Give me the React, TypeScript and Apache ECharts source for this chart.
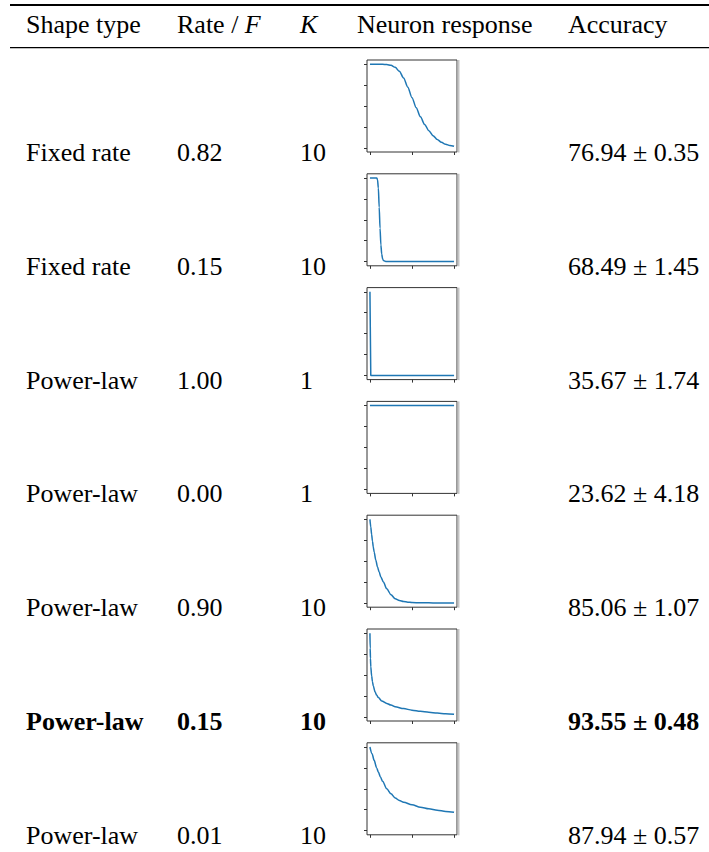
import React, { useEffect, useRef } from "react";
import * as echarts from "echarts";

// ---- data ----
const headers = ["Shape type", "Rate / {i|F}", "{i|K}", "Neuron response", "Accuracy"];
const shapeTypes = ["Fixed rate", "Fixed rate", "Power-law", "Power-law", "Power-law", "Power-law", "Power-law"];
const rates = ["0.82", "0.15", "1.00", "0.00", "0.90", "0.15", "0.01"];
const ks = ["10", "10", "1", "1", "10", "10", "10"];
const accuracies = ["76.94 ± 0.35", "68.49 ± 1.45", "35.67 ± 1.74", "23.62 ± 4.18", "85.06 ± 1.07", "93.55 ± 0.48", "87.94 ± 0.57"];
const boldRows = [5];

const xTicks = [0, 0.5, 1];
const yTicks = [0, 0.25, 0.5, 0.75, 1];

const response1 = [[0, 1], [0.05, 1], [0.1, 1], [0.15, 0.999], [0.2, 0.996], [0.25, 0.986], [0.3, 0.962], [0.35, 0.915], [0.4, 0.835], [0.45, 0.725], [0.5, 0.6], [0.55, 0.48], [0.6, 0.37], [0.65, 0.28], [0.7, 0.205], [0.75, 0.145], [0.8, 0.1], [0.85, 0.066], [0.9, 0.043], [0.95, 0.028], [1, 0.018]];
const response2 = [[0, 1], [0.04, 1], [0.08, 1], [0.09, 0.98], [0.1, 0.88], [0.11, 0.65], [0.12, 0.4], [0.13, 0.2], [0.14, 0.09], [0.15, 0.035], [0.16, 0.012], [0.18, 0.003], [0.2, 0], [0.4, 0], [0.6, 0], [0.8, 0], [1, 0]];
const response3 = [[0, 1], [0.01, 0], [0.5, 0], [1, 0]];
const response4 = [[0, 1], [0.5, 1], [1, 1]];
const response5 = [[0, 1], [0.01, 0.91], [0.02, 0.82], [0.03, 0.74], [0.04, 0.67], [0.05, 0.61], [0.07, 0.51], [0.09, 0.43], [0.11, 0.37], [0.13, 0.31], [0.16, 0.25], [0.2, 0.17], [0.25, 0.1], [0.3, 0.05], [0.35, 0.03], [0.4, 0.018], [0.45, 0.01], [0.5, 0.006], [0.6, 0.003], [0.7, 0.002], [0.8, 0.001], [0.9, 0.001], [1, 0]];
const response6 = [[0, 1], [0.003, 0.82], [0.006, 0.7], [0.01, 0.6], [0.02, 0.49], [0.03, 0.42], [0.04, 0.37], [0.06, 0.3], [0.08, 0.26], [0.1, 0.23], [0.14, 0.19], [0.2, 0.16], [0.25, 0.14], [0.3, 0.12], [0.4, 0.098], [0.5, 0.08], [0.6, 0.066], [0.7, 0.055], [0.8, 0.045], [0.9, 0.037], [1, 0.03]];
const response7 = [[0, 1], [0.025, 0.92], [0.05, 0.84], [0.08, 0.75], [0.1, 0.7], [0.125, 0.64], [0.15, 0.59], [0.2, 0.5], [0.25, 0.44], [0.3, 0.39], [0.35, 0.36], [0.4, 0.34], [0.5, 0.31], [0.6, 0.28], [0.7, 0.26], [0.8, 0.245], [0.9, 0.23], [1, 0.22]];
const responses = [response1, response2, response3, response4, response5, response6, response7];
const smoothFlags = [true, true, false, false, true, true, true];

// ---- layout ----
const W = 709;
const H = 852;
const FONT = "Liberation Serif";
const FS = 26;
const colX = [26, 177, 300, 357, 568];
const chartLeft = 367;
const chartW = 90;
const chartH = 92;
const firstTop = 60;
const rowStep = 113.8;

function textEl(text: string, x: number, y: number, bold: boolean) {
  return {
    type: "text",
    x,
    y,
    style: {
      text,
      fill: "#000",
      fontFamily: FONT,
      fontSize: FS,
      fontWeight: bold ? "bold" : "normal",
      align: "left",
      verticalAlign: "middle",
      textAlign: "left",
      textVerticalAlign: "middle",
      rich: {
        i: { fontFamily: FONT, fontSize: FS, fontStyle: "italic", fill: "#000" },
      },
    },
  };
}

export default function App() {
  const ref = useRef<HTMLDivElement>(null);
  useEffect(() => {
    if (!ref.current) return;
    const chart = echarts.init(ref.current, undefined, { renderer: "svg" });
    const grids: any[] = [];
    const xAxes: any[] = [];
    const yAxes: any[] = [];
    const series: any[] = [];
    const graphics: any[] = [];

    // rules
    graphics.push({ type: "rect", shape: { x: 10, y: 4, width: W - 10, height: 2 }, style: { fill: "#000" } });
    graphics.push({ type: "rect", shape: { x: 10, y: 47, width: W - 10, height: 1.2 }, style: { fill: "#000" } });

    headers.forEach((h, c) => graphics.push(textEl(h, colX[c], 24, false)));

    responses.forEach((data, i) => {
      const top = firstTop + i * rowStep;
      const bold = boldRows.includes(i);
      const cy = top + chartH + 0.5;
      graphics.push(textEl(shapeTypes[i], colX[0], cy, bold));
      graphics.push(textEl(rates[i], colX[1], cy, bold));
      graphics.push(textEl(ks[i], colX[2], cy, bold));
      graphics.push(textEl(accuracies[i], colX[4], cy, bold));
      graphics.push({ type: "rect", shape: { x: chartLeft + chartW + 0.5, y: top, width: 2, height: chartH + 0.5 }, style: { fill: "#c4c4c4" } });

      grids.push({
        left: chartLeft,
        top,
        width: chartW,
        height: chartH,
        show: true,
        borderColor: "#333",
        borderWidth: 1,
        backgroundColor: "#fff",
        containLabel: false,
        outerBoundsMode: "none",
      });
      xAxes.push({
        type: "value",
        gridIndex: i,
        min: -0.035,
        max: 1.035,
        position: "bottom",
        axisLine: { show: false, onZero: false },
        axisTick: { show: true, inside: false, length: 3, customValues: xTicks, lineStyle: { color: "#333", width: 1 } },
        axisLabel: { show: false, customValues: xTicks },
        splitLine: { show: false },
      });
      yAxes.push({
        type: "value",
        gridIndex: i,
        min: -0.05,
        max: 1.05,
        position: "left",
        axisLine: { show: false, onZero: false },
        axisTick: { show: true, inside: false, length: 3, customValues: yTicks, lineStyle: { color: "#333", width: 1 } },
        axisLabel: { show: false, customValues: yTicks },
        splitLine: { show: false },
      });
      series.push({
        type: "line",
        xAxisIndex: i,
        yAxisIndex: i,
        data,
        showSymbol: false,
        smooth: smoothFlags[i] ? 0.3 : false,
        smoothMonotone: "x",
        lineStyle: { color: "#1f77b4", width: 1.5 },
        silent: true,
      });
    });

    chart.setOption({
      animation: false,
      backgroundColor: "#fff",
      grid: grids,
      xAxis: xAxes,
      yAxis: yAxes,
      series,
      graphic: { elements: graphics },
    });
    return () => chart.dispose();
  }, []);
  return <div ref={ref} style={{ position: "absolute", left: 0, top: 0, width: W, height: H }} />;
}
